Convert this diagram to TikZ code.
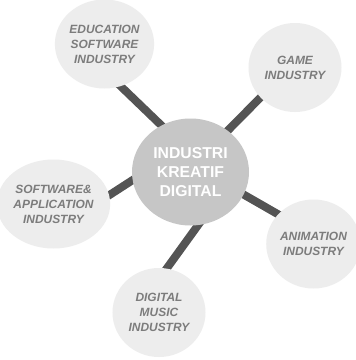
\documentclass[tikz,border=0pt]{standalone}
\usepackage{fontspec}
\setmainfont{Liberation Sans}
\usetikzlibrary{shapes.geometric,backgrounds}
\definecolor{smallfill}{HTML}{EDEDED}
\definecolor{hubfill}{HTML}{C6C6C6}
\definecolor{barcol}{HTML}{545454}
\definecolor{smalltext}{HTML}{7C7C7C}
\tikzset{
  leaf/.style={ellipse, fill=smallfill, minimum width=93bp, minimum height=89bp, inner sep=0pt,
    text=smalltext, align=center, font=\fontsize{12}{15}\selectfont\bfseries\itshape},
  hub/.style={ellipse, fill=hubfill, minimum width=117bp, minimum height=107bp, inner sep=0pt,
    text=white, align=center, font=\fontsize{15.8}{19}\selectfont\bfseries},
  bar/.style={draw=barcol, line width=8bp, shorten <=-5bp, shorten >=-5bp}
}
\begin{document}
\begin{tikzpicture}[x=1bp,y=-1bp]
\useasboundingbox (0,0) rectangle (356,360);
\path (190.5,172) node[hub] (hub) {INDUSTRI\\KREATIF\\DIGITAL};
\path (104.5,44) node[leaf] (edu) {EDUCATION\\SOFTWARE\\INDUSTRY};
\path (295,67.5) node[leaf] (game) {GAME\\INDUSTRY};
\path (53.5,204) node[leaf] (soft) {SOFTWARE\&\\APPLICATION\\INDUSTRY};
\path (313.5,244) node[leaf] (anim) {ANIMATION\\INDUSTRY};
\path (159,312.5) node[leaf] (music) {DIGITAL\\MUSIC\\INDUSTRY};
\begin{pgfonlayer}{background}
\fill[white] (0,0) rectangle (356,360);
\draw[bar] (edu.-69) -- (hub.122);
\draw[bar] (game.221) -- (hub.48);
\draw[bar] (soft.9) -- (hub.188);
\draw[bar] (anim.140) -- (hub.-23);
\draw[bar] (music.80) -- (hub.-82);
\end{pgfonlayer}
\end{tikzpicture}
\end{document}
